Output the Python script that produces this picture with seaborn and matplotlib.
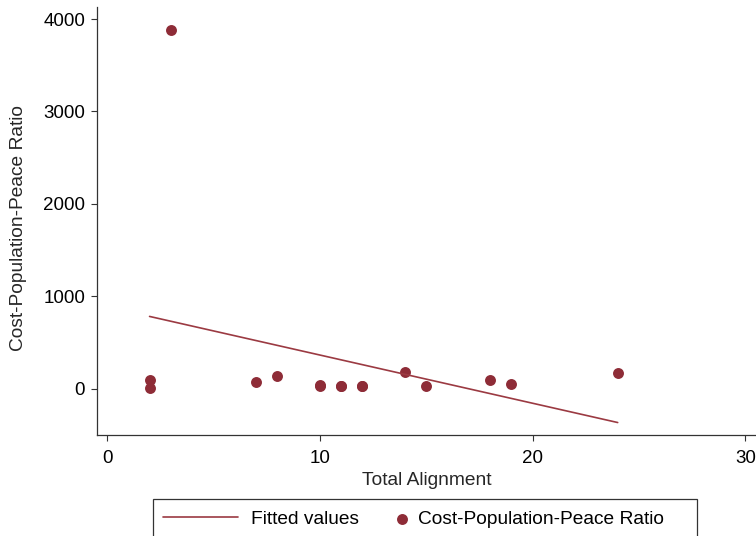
import numpy as np
import pandas as pd
import matplotlib
matplotlib.use("Agg")
import matplotlib.pyplot as plt
from matplotlib.patches import Rectangle
from matplotlib.legend_handler import HandlerPathCollection
import seaborn as sns

# values (some low points overlap each other exactly)
total_alignment = [2, 2, 3, 7, 8, 10, 10, 11, 11, 12, 12, 14, 15, 18, 19, 24]
cost_ratio = [93, 12, 3880, 74, 137, 40, 32, 26, 26, 26, 26, 185, 27, 91, 57, 174]
x_ticks = [0, 10, 20, 30]
y_ticks = [0, 1000, 2000, 3000, 4000]

df = pd.DataFrame({"Total Alignment": total_alignment,
                   "Cost-Population-Peace Ratio": cost_ratio})

# linear fit over the data range (like Stata's lfit)
slope, intercept = np.polyfit(df["Total Alignment"], df["Cost-Population-Peace Ratio"], 1)
fit_x = [min(total_alignment), max(total_alignment)]
fit = pd.DataFrame({"x": fit_x, "y": [intercept + slope * v for v in fit_x]})

sns.set_style("ticks")
plt.rcParams["font.family"] = ["Liberation Sans", "DejaVu Sans"]
plt.rcParams["text.color"] = "black"

fs_tick = 13.5
fs = 13.8
fig = plt.figure(figsize=(7.56, 5.36), dpi=100)
ax = fig.add_axes([97 / 756, 1 - 435 / 536, 1 - 97 / 756, (435 - 7) / 536])

marker_col = "#8e2c37"
line_col = "#9b3a42"

sns.lineplot(data=fit, x="x", y="y", color=line_col, linewidth=1.2,
             label="Fitted values", ax=ax)
sns.scatterplot(data=df, x="Total Alignment", y="Cost-Population-Peace Ratio",
                color=marker_col, s=62, linewidth=0,
                label="Cost-Population-Peace Ratio", ax=ax)

ax.set_xlim(-0.47, 30.5)
ax.set_ylim(-500, 4130)
ax.set_xticks(x_ticks)
ax.set_yticks(y_ticks)
ax.set_xlabel("Total Alignment", fontsize=fs, labelpad=4)
ax.set_ylabel("Cost-Population-Peace Ratio", fontsize=fs)
ax.yaxis.set_label_coords(-0.106, 0.484)
ax.tick_params(axis="both", labelsize=fs_tick, length=4.5, width=0.8, color="#333333",
               labelcolor="black")
ax.tick_params(axis="x", pad=6)
ax.tick_params(axis="y", pad=4)
for s in ["top", "right"]:
    ax.spines[s].set_visible(False)
for s in ["left", "bottom"]:
    ax.spines[s].set_color("#333333")
    ax.spines[s].set_linewidth(0.9)

# legend below the plot, frame drawn separately (it runs off the bottom edge)
handles, labels = ax.get_legend_handles_labels()
ax.legend(handles, labels, loc="center left", bbox_to_anchor=(163 / 756, 1 - 519 / 536),
          bbox_transform=fig.transFigure, ncol=2, fontsize=fs, frameon=False,
          handlelength=3.91, handletextpad=0.68, columnspacing=-1.51,
          borderpad=0, borderaxespad=0,
          handler_map={handles[1]: HandlerPathCollection(xpad=3.6)})
fig.patches.append(Rectangle((153 / 756, -0.05), 544 / 756, 0.05 + 1 - 499 / 536,
                             transform=fig.transFigure, fill=False,
                             edgecolor="#333333", linewidth=0.9))

fig.savefig("out.png", dpi=100)
